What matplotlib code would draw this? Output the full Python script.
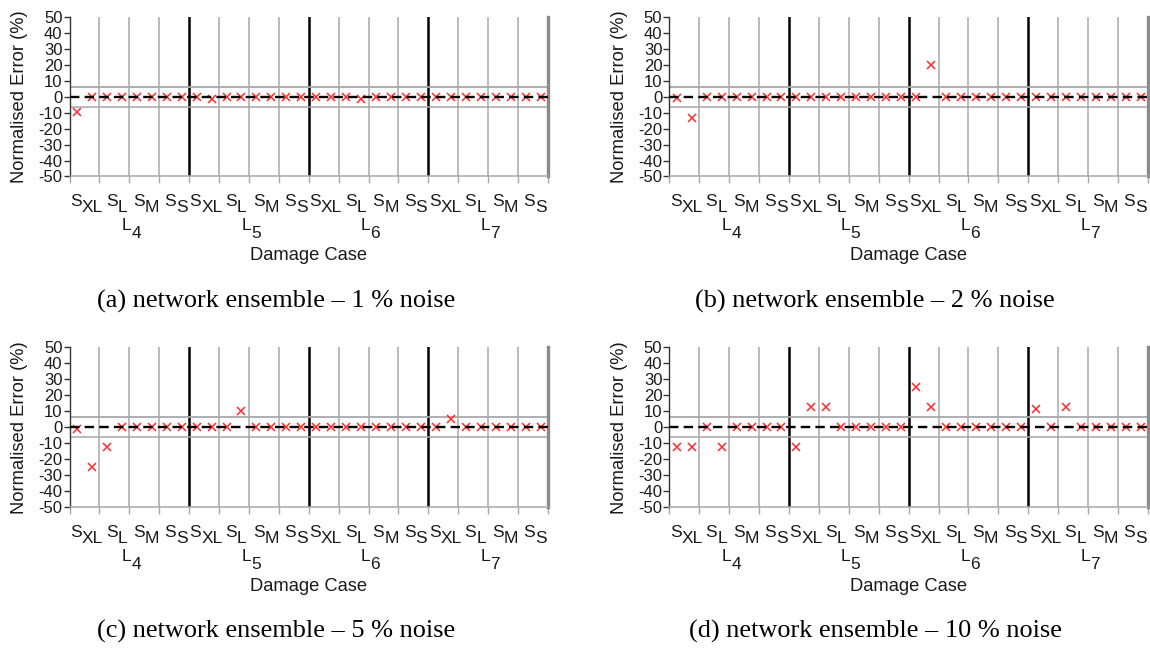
import numpy as np
import matplotlib
matplotlib.use('Agg')
import matplotlib.pyplot as plt
from matplotlib.offsetbox import TextArea, HPacker, VPacker, DrawingArea, AnnotationBbox

# ---------------- data ----------------
severity_labels = ['XL', 'L', 'M', 'S']
location_labels = ['4', '5', '6', '7']
ytick_values = [50, 40, 30, 20, 10, 0, -10, -20, -30, -40, -50]
band_limit = 6.3

err_1pct = [-9.5, 0, 0, 0, 0, 0, 0, 0, 0, -1.5, 0, 0, 0, 0, 0, 0,
            0, 0, 0, -1.5, 0, 0, 0, 0, 0, 0, 0, 0, 0, 0, 0, 0]
err_2pct = [-1, -13.5, 0, 0, 0, 0, 0, 0, 0, 0, 0, 0, 0, 0, 0, 0,
            0, 20, 0, 0, 0, 0, 0, 0, 0, 0, 0, 0, 0, 0, 0, 0]
err_5pct = [-1, -24.5, -12.5, 0, 0, 0, 0, 0, 0, 0, 0, 10.5, 0, 0, 0, 0,
            0, 0, 0, 0, 0, 0, 0, 0, 0, 5.5, 0, 0, 0, 0, 0, 0]
err_10pct = [-12.5, -12.5, 0, -12.5, 0, 0, 0, 0, -12.5, 12.5, 12.5, 0, 0, 0, 0, 0,
             25, 12.5, 0, 0, 0, 0, 0, 0, 11.5, 0, 12.5, 0, 0, 0, 0, 0]

captions = ['(a) network ensemble – 1 % noise',
            '(b) network ensemble – 2 % noise',
            '(c) network ensemble – 5 % noise',
            '(d) network ensemble – 10 % noise']
panels = [err_1pct, err_2pct, err_5pct, err_10pct]

# ---------------- style ----------------
plt.rcParams['font.family'] = ['Liberation Sans', 'DejaVu Sans']
plt.rcParams['axes.unicode_minus'] = False

W, H = 1150, 652
fig = plt.figure(figsize=(W / 100, H / 100), dpi=100)
PT = 0.72  # pixels -> points at dpi 100

# axes boxes in pixels: (left, top, right, bottom)
boxes = [(69.5, 17, 548, 176.5), (669.3, 17, 1148, 176.5),
         (69.5, 347.3, 548, 507.3), (669.3, 347.3, 1148, 507.3)]
caption_pos = [(276, 308), (875, 308), (276, 638), (875, 638)]

GRAY = '#a8a8a8'
TXT = '#1a1a1a'
FS_SUB = 12.5
FS_LAB = 13.2


def sub_label(main, sub, drop_px):
    tp = dict(fontsize=FS_SUB, color=TXT, family='Liberation Sans')
    t_main = TextArea(main, textprops=tp)
    t_sub = TextArea(sub, textprops=tp)
    col = VPacker(children=[DrawingArea(0.01, drop_px * PT), t_sub], pad=0, sep=0)
    return HPacker(children=[t_main, col], align='top', pad=0, sep=0)


for i, vals in enumerate(panels):
    l, t, r, b = boxes[i]
    ax = fig.add_axes([l / W, 1 - b / H, (r - l) / W, (b - t) / H])
    n = len(vals)
    x = np.arange(n) + 0.5
    ax.set_xlim(0, n)
    ax.set_ylim(-50, 50)

    # grid of damage-case cells
    for bnd in range(2, n, 2):
        if bnd % 8 == 0:
            ax.axvline(bnd, color='black', lw=1.8, zorder=1)
        else:
            ax.axvline(bnd, color=GRAY, lw=1.1, zorder=1)
    ax.axhline(band_limit, color=GRAY, lw=1.3, zorder=1)
    ax.axhline(-band_limit, color=GRAY, lw=1.1, zorder=1)

    ax.plot(x, vals, linestyle='none', marker='x', color='#ff2a2a',
            markersize=6, markeredgewidth=1.1, zorder=3)
    ax.axhline(0, color='black', lw=1.7, linestyle=(0, (4, 2.2)), zorder=4)

    # spines
    ax.spines['top'].set_visible(False)
    ax.spines['right'].set_color('#8a8a8a')
    ax.spines['right'].set_linewidth(2.4)
    ax.spines['bottom'].set_color(GRAY)
    ax.spines['bottom'].set_linewidth(1.1)
    ax.spines['left'].set_color('#333333')
    ax.spines['left'].set_linewidth(1.0)

    ax.set_yticks(ytick_values)
    ax.set_yticklabels([str(v) for v in ytick_values], fontsize=12, color=TXT)
    ax.tick_params(axis='y', length=4, width=1, color='#333333', pad=1)
    ax.set_xticks(range(0, n + 1, 2))
    ax.set_xticklabels([])
    ax.tick_params(axis='x', length=5, width=1, color=GRAY)

    ax.set_ylabel('Normalised Error (%)', fontsize=FS_LAB, color=TXT)
    ax.yaxis.set_label_coords((28 - 69.5) / (r - l), 0.5)

    xtr = ax.get_xaxis_transform()
    # severity labels
    for c in range(n // 2):
        sev = severity_labels[c % 4]
        box = sub_label('S', sev, 6)
        ab = AnnotationBbox(box, (2 * c + 1, 0), xycoords=xtr,
                            xybox=(2 * PT, -18 * PT), boxcoords='offset points',
                            box_alignment=(0.5, 1.0), frameon=False, pad=0,
                            annotation_clip=False)
        ax.add_artist(ab)
    # location labels
    for g in range(n // 8):
        box = sub_label('L', location_labels[g], 8)
        ab = AnnotationBbox(box, (8 * g + 4, 0), xycoords=xtr,
                            xybox=(2 * PT, -42 * PT), boxcoords='offset points',
                            box_alignment=(0.5, 1.0), frameon=False, pad=0,
                            annotation_clip=False)
        ax.add_artist(ab)
    ax.annotate('Damage Case', xy=(0.5, 0), xycoords='axes fraction',
                xytext=(0, -71 * PT), textcoords='offset points',
                ha='center', va='top', fontsize=FS_LAB, color=TXT)

    cx, cy = caption_pos[i]
    fig.text(cx / W, 1 - cy / H, captions[i], ha='center', va='baseline',
             fontsize=18.9, family='Liberation Serif', color='black')

fig.savefig('out.png', dpi=100)
